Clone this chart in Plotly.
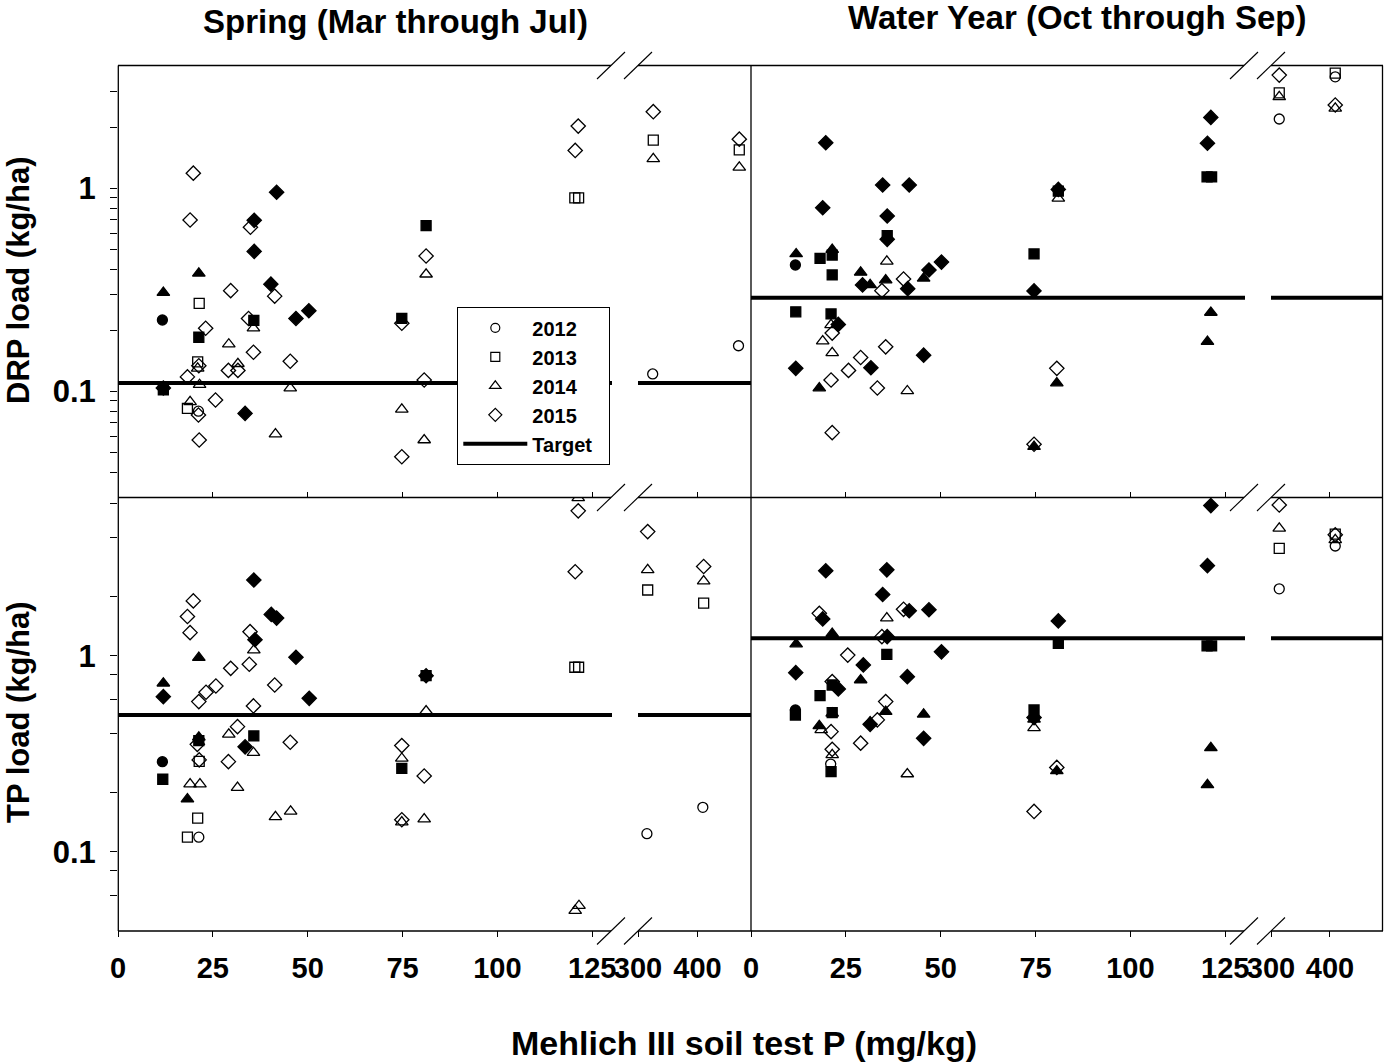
import plotly.graph_objects as go

W, H = 1384, 1062
FONT = "Liberation Sans, Arial, sans-serif"

# ---------------------------------------------------------------
# Data: [Mehlich III soil test P (mg/kg), load (kg/ha)]
# "solid" = filled symbols, "open" = hollow symbols
# ---------------------------------------------------------------

# Spring (Mar-Jul) DRP
drp_spring_2012_solid = [[11.7, 0.225]]
drp_spring_2012_open = [[21.2, 0.080], [324.7, 0.122], [469, 0.168]]
drp_spring_2013_solid = [[81.2, 0.656], [35.8, 0.224], [74.8, 0.229], [21.3, 0.185], [11.95, 0.102]]
drp_spring_2013_open = [[21.4, 0.272], [21.0, 0.140], [18.3, 0.0826], [120.4, 0.90], [121.4, 0.90],
                        [325.7, 1.73], [470.3, 1.55]]
drp_spring_2014_solid = [[21.3, 0.382], [11.95, 0.307]]
drp_spring_2014_open = [[81.2, 0.378], [35.7, 0.205], [29.2, 0.171], [21.0, 0.130], [31.6, 0.137],
                        [21.5, 0.108], [45.4, 0.104], [19.0, 0.089], [74.8, 0.0817], [41.5, 0.0617],
                        [80.7, 0.0577], [325.7, 1.40], [470.3, 1.27]]
drp_spring_2015_solid = [[41.8, 0.958], [35.9, 0.697], [35.9, 0.49], [40.3, 0.338], [50.3, 0.25],
                         [46.9, 0.229], [11.95, 0.104], [33.5, 0.078]]
drp_spring_2015_open = [[19.85, 1.19], [19.0, 0.70], [34.9, 0.644], [81.2, 0.465], [29.7, 0.314],
                        [41.3, 0.295], [34.4, 0.229], [23.1, 0.205], [74.8, 0.217], [35.7, 0.156],
                        [45.4, 0.141], [21.3, 0.134], [29.1, 0.127], [31.6, 0.127], [18.3, 0.118],
                        [80.7, 0.114], [21.2, 0.0766], [25.7, 0.0908], [21.4, 0.0577], [74.8, 0.0477],
                        [121.3, 2.03], [120.5, 1.54], [325.7, 2.39], [470.3, 1.75]]

# Water year (Oct-Sep) DRP
drp_wy_2012_solid = [[11.7, 0.42]]
drp_wy_2012_open = [[314, 2.2], [409, 3.55]]
drp_wy_2013_solid = [[35.9, 0.585], [18.2, 0.453], [21.4, 0.47], [21.4, 0.375], [74.6, 0.476],
                     [81.0, 0.97], [11.8, 0.247], [21.1, 0.241], [120.2, 1.14], [121.4, 1.14]]
drp_wy_2013_open = [[314, 2.96], [409, 3.7]]
drp_wy_2014_solid = [[11.9, 0.476], [21.4, 0.50], [28.9, 0.386], [31.4, 0.335], [35.5, 0.354],
                     [45.5, 0.361], [18.0, 0.104], [80.6, 0.11], [74.6, 0.0535], [121.2, 0.245],
                     [120.3, 0.176]]
drp_wy_2014_open = [[35.8, 0.438], [81.0, 0.895], [21.1, 0.213], [18.9, 0.177], [21.4, 0.155],
                    [41.2, 0.1006], [314, 2.83], [409, 2.48]]
drp_wy_2015_solid = [[19.7, 1.68], [34.7, 1.04], [41.7, 1.04], [18.9, 0.804], [35.9, 0.732],
                     [35.9, 0.562], [29.4, 0.335], [41.3, 0.321], [46.9, 0.397], [50.2, 0.434],
                     [74.6, 0.313], [81.0, 0.99], [23.0, 0.214], [31.6, 0.131], [11.8, 0.130],
                     [45.5, 0.151], [121.2, 2.24], [120.3, 1.67]]
drp_wy_2015_open = [[34.5, 0.314], [40.2, 0.358], [21.4, 0.194], [35.5, 0.166], [28.9, 0.147],
                    [25.7, 0.127], [21.1, 0.114], [33.3, 0.104], [80.6, 0.130], [21.4, 0.0627],
                    [74.6, 0.055], [314, 3.62], [409, 2.58]]

# Spring (Mar-Jul) TP
tp_spring_2012_solid = [[11.7, 0.289]]
tp_spring_2012_open = [[21.3, 0.119], [315, 0.124], [409, 0.169]]
tp_spring_2013_solid = [[81.2, 0.793], [35.8, 0.391], [21.3, 0.37], [74.8, 0.267], [11.8, 0.235]]
tp_spring_2013_open = [[21.4, 0.29], [21.0, 0.149], [18.3, 0.119], [120.4, 0.876], [121.4, 0.876],
                       [316.3, 2.17], [410.4, 1.86]]
tp_spring_2014_solid = [[21.3, 0.98], [11.95, 0.726], [21.3, 0.385], [18.3, 0.186]]
tp_spring_2014_open = [[35.8, 1.07], [81.2, 0.524], [29.2, 0.398], [35.7, 0.321], [74.8, 0.30],
                       [19.0, 0.222], [21.6, 0.222], [31.5, 0.213], [41.5, 0.151], [45.5, 0.161],
                       [74.8, 0.142], [80.7, 0.147], [121.3, 6.4], [120.5, 0.0502], [121.5, 0.0532],
                       [316.3, 2.75], [410.4, 2.41]]
tp_spring_2015_solid = [[35.8, 2.44], [40.4, 1.63], [41.8, 1.56], [36.1, 1.21], [46.9, 0.985],
                        [11.95, 0.62], [50.4, 0.608], [81.2, 0.793], [33.5, 0.344]]
tp_spring_2015_open = [[19.85, 1.91], [18.3, 1.59], [19.0, 1.315], [34.8, 1.33], [29.7, 0.865],
                       [34.6, 0.907], [25.8, 0.703], [23.2, 0.653], [21.3, 0.585], [41.3, 0.711],
                       [35.7, 0.556], [31.5, 0.436], [20.9, 0.354], [45.4, 0.363], [74.8, 0.349],
                       [21.4, 0.295], [29.1, 0.289], [80.7, 0.244], [74.8, 0.146], [121.3, 5.5],
                       [120.5, 2.69], [316.3, 4.31], [410.4, 2.86]]

# Water year (Oct-Sep) TP
tp_wy_2012_solid = [[11.7, 0.53]]
tp_wy_2012_open = [[21.0, 0.281], [314, 2.2], [409, 3.64]]
tp_wy_2013_solid = [[81.0, 1.16], [35.8, 1.02], [21.4, 0.711], [18.2, 0.627], [11.7, 0.50],
                    [21.4, 0.514], [21.1, 0.257], [74.6, 0.53], [120.2, 1.125], [121.4, 1.125]]
tp_wy_2013_open = [[314, 3.54], [409, 4.18]]
tp_wy_2014_solid = [[21.4, 1.30], [11.9, 1.15], [28.9, 0.754], [35.5, 0.52], [45.5, 0.504],
                    [18.0, 0.44], [31.4, 0.46], [74.6, 0.475], [80.6, 0.259], [121.2, 0.34],
                    [120.3, 0.22]]
tp_wy_2014_open = [[35.8, 1.56], [21.4, 0.51], [18.5, 0.42], [21.4, 0.313], [41.2, 0.25],
                   [74.6, 0.43], [314, 4.48], [409, 3.91]]
tp_wy_2015_solid = [[19.7, 2.72], [35.8, 2.75], [34.7, 2.06], [18.9, 1.545], [41.7, 1.70],
                    [46.9, 1.72], [81.0, 1.51], [35.9, 1.255], [50.2, 1.05], [29.6, 0.90],
                    [11.8, 0.822], [41.2, 0.784], [23.0, 0.679], [31.4, 0.448], [45.5, 0.38],
                    [74.6, 0.485], [121.2, 5.85], [120.3, 2.89]]
tp_wy_2015_open = [[18.0, 1.65], [40.2, 1.73], [34.5, 1.255], [25.5, 1.01], [21.4, 0.74],
                   [35.5, 0.585], [33.3, 0.472], [21.1, 0.411], [28.9, 0.359], [21.4, 0.334],
                   [74.6, 0.161], [80.6, 0.27], [314, 5.89], [409, 4.15]]

# Load targets (kg/ha)
drp_target_spring = 0.11
drp_target_wy = 0.29
tp_target_spring = 0.5
tp_target_wy = 1.23

years = [2012, 2013, 2014, 2015]
x_ticks_low = [0, 25, 50, 75, 100, 125]
x_ticks_high = [300, 400]
drp_ticks = [0.04, 0.05, 0.06, 0.07, 0.08, 0.09, 0.1, 0.2, 0.3, 0.4, 0.5, 0.6, 0.7, 0.8, 0.9, 1, 2, 3]
tp_ticks = [0.06, 0.08, 0.1, 0.2, 0.4, 0.6, 0.8, 1, 2, 4, 6]
labelled_ticks = [0.1, 1]

# ---------------------------------------------------------------
panels = [
    {"data": {2012: (drp_spring_2012_solid, drp_spring_2012_open),
              2013: (drp_spring_2013_solid, drp_spring_2013_open),
              2014: (drp_spring_2014_solid, drp_spring_2014_open),
              2015: (drp_spring_2015_solid, drp_spring_2015_open)},
     "target": drp_target_spring, "row": 0, "col": 0},
    {"data": {2012: (drp_wy_2012_solid, drp_wy_2012_open),
              2013: (drp_wy_2013_solid, drp_wy_2013_open),
              2014: (drp_wy_2014_solid, drp_wy_2014_open),
              2015: (drp_wy_2015_solid, drp_wy_2015_open)},
     "target": drp_target_wy, "row": 0, "col": 1},
    {"data": {2012: (tp_spring_2012_solid, tp_spring_2012_open),
              2013: (tp_spring_2013_solid, tp_spring_2013_open),
              2014: (tp_spring_2014_solid, tp_spring_2014_open),
              2015: (tp_spring_2015_solid, tp_spring_2015_open)},
     "target": tp_target_spring, "row": 1, "col": 0},
    {"data": {2012: (tp_wy_2012_solid, tp_wy_2012_open),
              2013: (tp_wy_2013_solid, tp_wy_2013_open),
              2014: (tp_wy_2014_solid, tp_wy_2014_open),
              2015: (tp_wy_2015_solid, tp_wy_2015_open)},
     "target": tp_target_wy, "row": 1, "col": 1},
]

SYMBOL = {2012: "circle", 2013: "square", 2014: "triangle-up", 2015: "diamond"}
SIZE = {2012: 10, 2013: 10, 2014: 11, 2015: 11}

# broken x axis: low segment 0-130, high segment 300-490
SEG_RANGE = [[0, 130.2], [300, 490]]
# pixel extents of the segments and the rows
SEG_PX = [[(118, 612), (638, 751)], [(751, 1245), (1271, 1383)]]
ROW_PX = [(65, 497), (497, 930)]
Y_RANGE = [[-1.5197, 0.6084], [-1.398, 0.811]]


def px_x(p):
    return p / W


def px_y(p):
    return 1 - p / H


def ax_id(n):
    return "" if n == 1 else str(n)


fig = go.Figure()
layout = {}

for pi, panel in enumerate(panels):
    row, col = panel["row"], panel["col"]
    for seg in (0, 1):
        n = pi * 2 + seg + 1
        xa, ya = "x" + ax_id(n), "y" + ax_id(n)
        x0, x1 = SEG_PX[col][seg]
        y0, y1 = ROW_PX[row]
        bottom = row == 1
        layout["xaxis" + ax_id(n)] = dict(
            domain=[px_x(x0), px_x(x1)], anchor=ya, range=SEG_RANGE[seg], automargin=False,
            tickmode="array", tickvals=x_ticks_low if seg == 0 else x_ticks_high,
            ticks="outside" if bottom else "inside", ticklen=6 if bottom else 5,
            tickwidth=1.2, tickcolor="black",
            showticklabels=bottom, showgrid=False, zeroline=False, showline=False,
            tickfont=dict(family=FONT, size=29, color="black", weight="bold"),
            ticklabelstandoff=6,
        )
        left_axis = (col == 0 and seg == 0)
        tv = drp_ticks if row == 0 else tp_ticks
        layout["yaxis" + ax_id(n)] = dict(
            domain=[px_y(y1), px_y(y0)], anchor=xa, type="log", range=Y_RANGE[row], automargin=False,
            tickmode="array", tickvals=tv,
            ticktext=[("1" if v == 1 else "0.1") if v in labelled_ticks else "" for v in tv],
            ticks="outside" if left_axis else "", ticklen=7, tickwidth=1.2, tickcolor="black",
            showticklabels=left_axis, showgrid=False, zeroline=False, showline=False,
            tickfont=dict(family=FONT, size=31, color="black", weight="bold"),
            ticklabelstandoff=8,
        )

        # data markers
        for yr in years:
            solid, hollow = panel["data"][yr]
            for pts, filled in ((solid, True), (hollow, False)):
                sel = [p for p in pts if (p[0] < 200) == (seg == 0)]
                if not sel:
                    continue
                fig.add_trace(go.Scatter(
                    x=[p[0] for p in sel], y=[p[1] for p in sel], xaxis=xa, yaxis=ya,
                    mode="markers", showlegend=False, name=str(yr),
                    marker=dict(symbol=SYMBOL[yr] if filled else SYMBOL[yr] + "-open",
                                size=SIZE[yr], color="black",
                                line=dict(color="black", width=1.3)),
                ))

        # target line
        fig.add_trace(go.Scatter(
            x=SEG_RANGE[seg], y=[panel["target"]] * 2, xaxis=xa, yaxis=ya,
            mode="lines", line=dict(color="black", width=4),
            name="Target\u00a0\u00a0", showlegend=(pi == 0 and seg == 0), legendrank=5,
            cliponaxis=False,
        ))

# legend entries for the years (hollow symbols)
for i, yr in enumerate(years):
    fig.add_trace(go.Scatter(
        x=[None], y=[None], xaxis="x", yaxis="y", mode="markers", name=str(yr),
        legendrank=i + 1,
        marker=dict(symbol=SYMBOL[yr] + "-open", size=SIZE[yr] - 1, color="black",
                    line=dict(color="black", width=1.2)),
    ))

# frame lines with axis breaks
shapes = []
line_style = dict(color="black", width=1.3)
for yline in (65.5, 497.5, 931):
    for a, b in ((118, 611), (638, 1244), (1271, 1383)):
        shapes.append(dict(type="line", xref="paper", yref="paper",
                           x0=px_x(a), x1=px_x(b), y0=px_y(yline), y1=px_y(yline), line=line_style))
    for cx in (611, 638, 1244, 1271):
        shapes.append(dict(type="line", xref="paper", yref="paper",
                           x0=px_x(cx - 14), x1=px_x(cx + 14), y0=px_y(yline + 13.5),
                           y1=px_y(yline - 13.5), line=dict(color="black", width=1.1)))
for xline in (118.3, 751, 1382.5):
    shapes.append(dict(type="line", xref="paper", yref="paper",
                       x0=px_x(xline), x1=px_x(xline), y0=px_y(65.5), y1=px_y(931), line=line_style))

bold = dict(family=FONT, color="black", weight="bold")
annotations = [
    dict(text="Spring (Mar through Jul)", x=px_x(395), y=px_y(22), xref="paper", yref="paper",
         showarrow=False, font=dict(size=33, **bold), xanchor="center", yanchor="middle"),
    dict(text="Water Year (Oct through Sep)", x=px_x(1077), y=px_y(18), xref="paper", yref="paper",
         showarrow=False, font=dict(size=33, **bold), xanchor="center", yanchor="middle"),
    dict(text="DRP load (kg/ha)", x=px_x(18), y=px_y(281), xref="paper", yref="paper",
         showarrow=False, textangle=-90, font=dict(size=31, **bold), xanchor="center", yanchor="middle"),
    dict(text="TP load (kg/ha)", x=px_x(18), y=px_y(712), xref="paper", yref="paper",
         showarrow=False, textangle=-90, font=dict(size=31, **bold), xanchor="center", yanchor="middle"),
    dict(text="Mehlich III soil test P (mg/kg)", x=px_x(744), y=px_y(1043), xref="paper", yref="paper",
         showarrow=False, font=dict(size=34, **bold), xanchor="center", yanchor="middle"),
]

fig.update_layout(
    width=W, height=H, autosize=False,
    margin=dict(l=0, r=0, t=0, b=0),
    paper_bgcolor="white", plot_bgcolor="white",
    shapes=shapes, annotations=annotations,
    legend=dict(x=px_x(457), y=px_y(307), xanchor="left", yanchor="top",
                bgcolor="white", bordercolor="black", borderwidth=1.3,
                font=dict(size=20, **bold), itemwidth=64, tracegroupgap=0),
    **layout,
)

fig.write_html("out.html")
